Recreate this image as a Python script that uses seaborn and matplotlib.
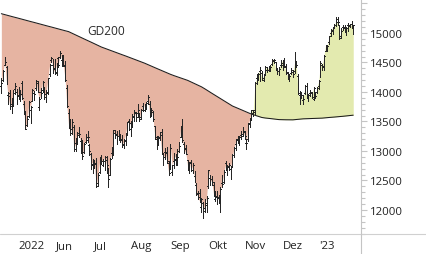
import numpy as np
import pandas as pd
import matplotlib
matplotlib.use('Agg')
import matplotlib.pyplot as plt
import matplotlib.transforms as mtransforms
from matplotlib.lines import Line2D
from matplotlib.ticker import MultipleLocator
import seaborn as sns

eroeffnung = [
    14100, 14200, 14450, 14420, 13950, 13980, 13800, 13870, 14050,
    14000, 13950, 13960, 14160, 13800, 13640, 13440, 13600, 13700, 13850, 13990, 14070, 14150, 13750, 14000, 14030, 14050, 13960, 13990, 14300, 14550, 14460,
    14400, 14330, 14570, 14590, 14550, 14570, 14450, 14070, 13640, 13500, 13370, 13400, 13130, 13130, 13310, 13170, 13150, 12990, 13160, 13230, 13100, 12950,
    12760, 12830, 12800, 12450, 12640, 12900, 12770, 12830, 12850, 12700, 12600, 12960, 12950, 13350, 13270, 13250, 13270, 13180, 13110, 13190, 13300,
    13510, 13370, 13500, 13570, 13640, 13650, 13640, 13580, 13770, 13700, 13760, 13850, 13800, 13670, 13660, 13430, 13200, 13170, 13230, 13330, 12880, 12980, 12980,
    12800, 12690, 12650, 12830, 12850, 12950, 13000, 13230, 13440, 13110, 13050, 12840, 12690, 12820, 12680, 12570, 12420, 12270, 12280, 12050, 12120, 12040,
    12080, 12400, 12550, 12530, 12430, 12180, 12240, 12200, 12130, 12450, 12470, 12790, 12740, 12730, 12700, 12830, 12940, 13110, 13180, 13190, 13270,
    13290, 13320, 13140, 13200, 13470, 13560, 13650, 13700, 14230, 14230, 14350, 14330, 14200, 14300, 14370, 14370, 14410, 14470, 14520, 14500, 14390, 14350,
    14450, 14450, 14540, 14430, 14330, 14270, 14320, 14340, 14350, 14500, 14270, 13950, 13950, 13860, 13980, 14100, 13930, 13980, 13990, 13880, 14000,
    14000, 14100, 14270, 14450, 14420, 14700, 14730, 14850, 15000, 15040, 15100, 15140, 15230, 15130, 14950, 15100, 15080, 15060, 15130, 15120, 15160, 15100,
]
hoch = [
    14230, 14380, 14590, 14440, 14000, 14030, 13900, 14030, 14150,
    14050, 14080, 14030, 14190, 13840, 13660, 13590, 13850, 13770, 14050, 14010, 14210, 14190, 13920, 14060, 14190, 14080, 14040, 14240, 14470, 14600, 14560,
    14560, 14490, 14600, 14700, 14620, 14620, 14530, 14120, 13710, 13540, 13540, 13440, 13220, 13320, 13400, 13220, 13180, 13140, 13290, 13340, 13110, 12960,
    12870, 12840, 12880, 12630, 12880, 12930, 12870, 12910, 12910, 12720, 12880, 13060, 13360, 13360, 13340, 13360, 13290, 13270, 13200, 13300, 13490,
    13540, 13490, 13620, 13700, 13660, 13800, 13650, 13720, 13810, 13800, 13830, 13950, 13840, 13730, 13670, 13430, 13250, 13260, 13330, 13370, 12950, 13050, 13060,
    12830, 13110, 12770, 12960, 12930, 13030, 13150, 13420, 13540, 13150, 13100, 12840, 12810, 12840, 12790, 12660, 12460, 12320, 12360, 12200, 12130, 12180,
    12240, 12680, 12600, 12580, 12470, 12320, 12320, 12260, 12390, 12590, 12680, 12830, 12770, 12800, 12750, 12950, 13060, 13200, 13260, 13250, 13340,
    13410, 13340, 13200, 13470, 13560, 13700, 13700, 14170, 14300, 14330, 14420, 14350, 14280, 14440, 14420, 14440, 14460, 14560, 14560, 14510, 14400, 14420,
    14540, 14550, 14580, 14470, 14340, 14300, 14400, 14370, 14670, 14520, 14300, 14010, 14000, 13950, 14120, 14150, 13960, 14030, 14000, 14080, 14000,
    14090, 14210, 14520, 14480, 14620, 14800, 14790, 14950, 15060, 15090, 15150, 15270, 15270, 15140, 15080, 15130, 15140, 15090, 15170, 15160, 15200, 15140,
]
tief = [
    13990, 14180, 14450, 14130, 13800, 13720, 13650, 13770, 13960,
    13800, 13880, 13850, 13880, 13620, 13380, 13420, 13580, 13480, 13840, 13870, 14030, 14000, 13700, 13890, 14000, 13880, 13830, 13960, 14270, 14510, 14330,
    14300, 14280, 14430, 14570, 14440, 14440, 14180, 13740, 13390, 13270, 13290, 13000, 13000, 13110, 13230, 12970, 12870, 12970, 13140, 13160, 12940, 12700,
    12620, 12710, 12390, 12400, 12630, 12780, 12750, 12670, 12620, 12390, 12590, 12880, 12930, 13220, 13110, 13180, 13150, 13060, 13050, 13100, 13270,
    13360, 13260, 13400, 13510, 13500, 13580, 13500, 13550, 13670, 13680, 13720, 13800, 13570, 13590, 13500, 13210, 13030, 13100, 13180, 12950, 12770, 12860, 12800,
    12600, 12690, 12600, 12720, 12760, 12770, 12990, 13230, 13160, 12960, 12950, 12680, 12630, 12660, 12620, 12480, 12260, 12180, 12130, 11970, 11860, 11960,
    11970, 12380, 12420, 12430, 12240, 12150, 12100, 12110, 11970, 12390, 12460, 12680, 12590, 12670, 12520, 12750, 12900, 13020, 13130, 13100, 13200,
    13250, 13210, 13030, 13170, 13410, 13520, 13590, 13630, 14140, 14210, 14180, 14200, 14180, 14290, 14340, 14350, 14360, 14450, 14490, 14370, 14310, 14290,
    14420, 14370, 14420, 14310, 14220, 14180, 14300, 14250, 14330, 14420, 13960, 13790, 13890, 13790, 13970, 13890, 13850, 13940, 13900, 13870, 13900,
    13980, 14050, 14260, 14380, 14370, 14690, 14690, 14810, 14950, 14990, 15080, 15120, 15160, 14900, 14910, 15050, 15020, 14960, 15030, 15100, 15080, 14990,
]
schluss = [
    14153, 14362, 14502, 14142, 13924, 13756, 13795, 13980, 14098,
    13939, 13970, 13970, 13902, 13674, 13381, 13535, 13828, 13740, 14027, 13964, 14186, 14008, 13882, 13982, 14176, 13920, 14008, 14232, 14462, 14576, 14388,
    14340, 14485, 14460, 14653, 14556, 14446, 14199, 13762, 13427, 13304, 13483, 13038, 13126, 13265, 13292, 13144, 12912, 13118, 13186, 13231, 13003, 12784,
    12813, 12773, 12401, 12595, 12843, 12834, 12832, 12905, 12756, 12519, 12865, 12959, 13308, 13282, 13247, 13254, 13211, 13097, 13166, 13282, 13484,
    13479, 13449, 13587, 13662, 13574, 13688, 13535, 13700, 13695, 13795, 13816, 13910, 13626, 13697, 13544, 13230, 13194, 13220, 13271, 12971, 12893, 12961, 12835,
    12631, 13050, 12761, 12871, 12916, 12904, 13088, 13403, 13189, 13028, 12957, 12741, 12803, 12671, 12767, 12531, 12284, 12227, 12140, 12183, 11975, 12114,
    12209, 12670, 12517, 12471, 12273, 12220, 12220, 12172, 12355, 12438, 12649, 12765, 12741, 12767, 12731, 12931, 13053, 13196, 13211, 13243, 13253,
    13339, 13257, 13130, 13460, 13533, 13688, 13666, 14146, 14224, 14313, 14378, 14234, 14267, 14431, 14380, 14423, 14428, 14539, 14541, 14383, 14355, 14397,
    14490, 14529, 14448, 14344, 14261, 14264, 14371, 14306, 14498, 14461, 13987, 13893, 13943, 13885, 14098, 13914, 13941, 13995, 13912, 14071, 13924,
    14069, 14182, 14490, 14436, 14610, 14792, 14775, 14948, 15058, 15087, 15134, 15187, 15181, 14920, 15033, 15103, 15093, 15082, 15132, 15150, 15127, 15128,
]
gd200 = [
    15327, 15319, 15311, 15304, 15296, 15288, 15280, 15272, 15265, 15257, 15249, 15241, 15233, 15226, 15218, 15210, 15202, 15194, 15187, 15179,
    15171, 15163, 15155, 15148, 15140, 15132, 15124, 15116, 15109, 15101, 15093, 15085, 15077, 15070, 15062, 15054, 15046, 15038, 15031, 15023,
    15009, 14995, 14982, 14968, 14954, 14941, 14927, 14913, 14899, 14886, 14872, 14858, 14845, 14831, 14817, 14804, 14790, 14776, 14762,
    14751, 14740, 14730, 14719, 14708, 14697, 14686, 14676, 14665, 14654, 14643, 14632, 14622, 14611, 14600, 14589, 14578, 14568, 14557, 14546, 14535, 14524, 14514,
    14501, 14489, 14476, 14463, 14451, 14438, 14426, 14413, 14400, 14388, 14375, 14363, 14350, 14337, 14325, 14312, 14300, 14288,
    14278, 14268, 14258, 14248, 14238, 14228, 14218, 14208,
    14197, 14183, 14170, 14156, 14142, 14129, 14115, 14102, 14088,
    14071, 14053, 14034, 14016, 13998, 13979, 13961, 13943,
    13925, 13907, 13889, 13870, 13852, 13834, 13816, 13798, 13780, 13762,
    13750, 13737, 13725, 13712, 13700, 13687, 13675, 13662, 13650, 13637,
    13625, 13615, 13606, 13596, 13587, 13577, 13568,
    13563, 13559, 13556, 13552, 13549, 13546, 13542, 13539, 13535,
    13532, 13531, 13530, 13530, 13529, 13529, 13528, 13528, 13528,
    13531, 13534, 13537, 13540, 13542, 13545,
    13546, 13547, 13548, 13550, 13551, 13552, 13553, 13554, 13555, 13556, 13557,
    13560, 13563, 13565, 13568, 13570, 13573, 13575, 13578, 13580, 13583, 13585, 13588,
    13591, 13594, 13597, 13601, 13604, 13607,
]

monats_labels = ['2022', 'Jun', 'Jul', 'Aug', 'Sep', 'Okt', 'Nov', 'Dez', "'23", '']
y_ticks = [12000, 12500, 13000, 13500, 14000, 14500, 15000, 15500]
y_labels = ['12000', '12500', '13000', '13500', '14000', '14500', '15000', '']

# Handelstage (Xetra, 26.12. geschlossen)
tage = pd.bdate_range('2022-04-19', '2023-01-31')
tage = tage[tage != pd.Timestamp('2022-12-26')]

df = pd.DataFrame({'Datum': tage, 'Open': eroeffnung, 'High': hoch,
                   'Low': tief, 'Close': schluss, 'GD200': gd200})
df['i'] = np.arange(len(df))

monatsanfang = df.groupby(df['Datum'].dt.to_period('M'))['i'].min().values[1:] - 0.5
trenner = list(monatsanfang) + [len(df) - 0.5]

sns.set_theme(style='white')
plt.rcParams['font.family'] = ['Open Sans', 'DejaVu Sans']

fig = plt.figure(figsize=(4.26, 2.55), dpi=100)
ax = fig.add_axes([0, 20 / 255, 361 / 426, 235 / 255])

x = df['i'].values
c = df['Close'].values
m = df['GD200'].values
ax.fill_between(x, c, m, where=c < m, interpolate=True, color='#E6B4A2', lw=0)
ax.fill_between(x, c, m, where=c >= m, interpolate=True, color='#E3EAAF', lw=0)

sns.lineplot(data=df, x='i', y='GD200', color='#1c1c1c', lw=0.75, ax=ax)

farbe = '#262626'
ax.vlines(x, df['Low'], df['High'], color=farbe, lw=0.72, antialiased=False)
ax.hlines(df['Open'], x - 0.55, x, color=farbe, lw=0.72, antialiased=False)
ax.hlines(df['Close'], x, x + 0.55, color=farbe, lw=0.72, antialiased=False)

ax.text(60.7, 15040, 'GD200', ha='center', va='center', fontsize=8.6, color='#2a2a2a')

ax.set_xlim(-0.78, 208.5)
ax.set_ylim(11593, 15576)

# rechte Preisachse
for s in ['left', 'top', 'bottom']:
    ax.spines[s].set_visible(False)
ax.spines['right'].set_color('#c4c4c4')
ax.spines['right'].set_linewidth(0.8)
ax.yaxis.tick_right()
ax.set_yticks(y_ticks, labels=y_labels)
ax.yaxis.set_minor_locator(MultipleLocator(100))
ax.tick_params(axis='y', which='major', length=4.4, width=0.8, color='#c4c4c4',
               pad=2.2, labelsize=8.2, labelcolor='#222222')
ax.tick_params(axis='y', which='minor', length=2.6, width=0.8, color='#c4c4c4')
ax.set_xlabel('')
ax.set_ylabel('')

# Monatstrenner unten
ax.set_xticks(trenner, labels=[''] * len(trenner))
ax.tick_params(axis='x', length=15, width=0.8, color='#cccccc', direction='out', pad=0)
trans = mtransforms.offset_copy(ax.get_xaxis_transform(), fig=fig, x=2.5, y=-12, units='dots')
for pos, lab in zip(trenner, monats_labels):
    ax.text(pos, 0, lab, transform=trans, ha='left', va='center', fontsize=8.2, color='#222222')

fig.add_artist(Line2D([0, 1], [20 / 255, 20 / 255], color='#d0d0d0', lw=0.8))
fig.add_artist(Line2D([361 / 426, 361 / 426], [0, 20 / 255], color='#c4c4c4', lw=0.8))

fig.savefig('out.png', dpi=100)
